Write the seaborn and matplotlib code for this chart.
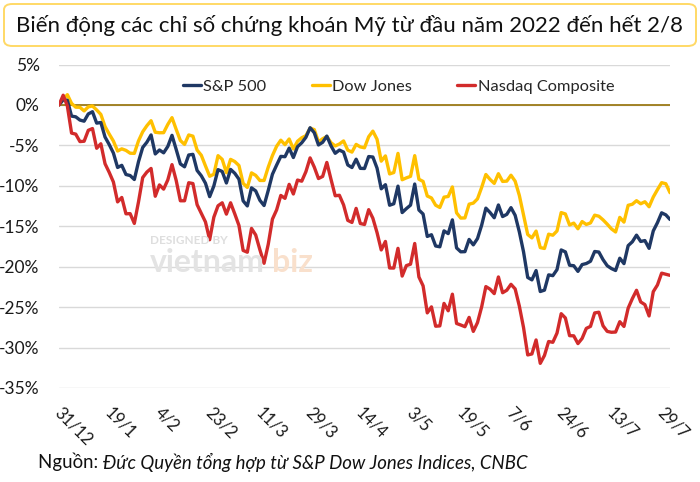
import matplotlib
matplotlib.use("Agg")
import matplotlib.pyplot as plt
import matplotlib.transforms as mtransforms
from matplotlib.patches import FancyBboxPatch
import seaborn as sns
import pandas as pd
import numpy as np

# Trading days 31/12/2021 .. 2/8/2022, % change since end of 2021
sp500 = [0.0, 0.64, 0.57, -1.38, -1.47, -1.87, -2.01, -1.11, -0.84, -2.25, -2.17,
         -3.97, -4.90, -5.95, -7.73, -7.47, -8.60, -8.73, -9.22, -7.01, -5.26,
         -4.61, -3.71, -6.06, -5.57, -5.92, -5.13, -3.76, -5.50, -7.29, -7.65,
         -6.19, -6.11, -8.10, -8.76, -9.68, -11.34, -10.02, -8.00, -8.23, -9.65,
         -7.97, -8.45, -9.18, -11.86, -12.49, -10.25, -10.63, -11.79, -12.44, -10.57,
         -8.57, -7.44, -6.36, -6.40, -5.34, -6.50, -5.16, -4.68, -4.00, -2.82,
         -3.44, -4.95, -4.62, -3.85, -5.06, -5.98, -5.58, -5.83, -7.42, -7.74,
         -6.71, -7.84, -7.86, -6.38, -6.44, -7.82, -10.37, -9.86, -12.40, -12.22,
         -10.04, -13.31, -12.82, -12.39, -9.78, -12.99, -13.49, -16.26, -16.05, -17.44,
         -17.54, -15.57, -15.91, -14.21, -17.68, -18.16, -18.14, -16.63, -17.30, -16.52,
         -14.86, -12.76, -13.30, -13.95, -12.37, -13.80, -13.53, -12.70, -13.65, -15.70,
         -18.16, -21.33, -21.63, -20.48, -23.07, -22.90, -21.01, -21.11, -20.36, -17.93,
         -18.17, -19.82, -19.88, -20.58, -19.74, -19.61, -19.33, -18.12, -18.19, -19.13,
         -19.88, -20.23, -20.47, -18.95, -19.62, -17.40, -16.92, -16.10, -16.88, -16.77,
         -17.73, -15.58, -14.56, -13.34, -13.59, -14.16]
dow = [0.0, 0.68, 1.27, 0.19, -0.28, -0.29, -0.74, -0.24, -0.13, -0.62, -1.17,
       -2.67, -3.60, -4.47, -5.70, -5.43, -5.62, -5.97, -5.99, -4.44, -3.32,
       -2.57, -1.95, -3.38, -3.44, -3.43, -2.41, -1.57, -3.02, -4.40, -4.88,
       -3.71, -3.86, -5.58, -6.22, -7.54, -8.82, -8.57, -6.27, -6.73, -8.38,
       -6.73, -7.00, -7.49, -9.69, -10.20, -8.40, -8.71, -9.34, -9.34, -7.69,
       -6.26, -5.11, -4.36, -4.91, -4.21, -5.45, -4.49, -4.06, -3.80, -2.87,
       -3.05, -4.57, -4.18, -3.90, -4.67, -5.07, -4.83, -4.45, -5.59, -5.83,
       -4.88, -5.19, -5.30, -3.93, -3.24, -4.25, -6.95, -6.30, -8.53, -8.36,
       -5.99, -9.25, -9.02, -8.83, -6.27, -9.19, -9.46, -11.26, -11.50, -12.40,
       -12.68, -11.40, -11.32, -10.14, -13.34, -13.99, -13.97, -12.27, -12.14, -11.61,
       -10.19, -8.60, -9.21, -9.70, -8.50, -9.46, -9.42, -8.69, -9.43, -11.19,
       -13.61, -16.02, -16.44, -15.60, -17.64, -17.75, -15.98, -16.11, -15.58, -13.31,
       -13.48, -14.84, -14.61, -15.31, -14.42, -14.78, -14.59, -13.63, -13.76, -14.21,
       -14.74, -15.32, -15.71, -13.90, -14.49, -12.41, -12.28, -11.84, -12.22, -11.97,
       -12.59, -11.39, -10.48, -9.61, -9.74, -10.85]
nasdaq = [0.0, 1.20, -0.14, -3.48, -3.61, -4.53, -4.49, -3.14, -2.92, -5.36, -4.80,
          -7.27, -8.34, -9.53, -11.99, -11.44, -13.46, -13.44, -14.65, -11.98, -8.98,
          -8.30, -7.85, -11.29, -9.89, -10.41, -9.27, -7.38, -9.33, -11.85, -11.85,
          -9.62, -9.72, -12.33, -13.40, -14.47, -16.67, -13.88, -12.47, -12.10, -13.50,
          -12.10, -13.47, -14.90, -17.99, -18.21, -15.27, -16.08, -17.90, -19.58, -17.23,
          -14.12, -12.98, -11.19, -11.55, -9.82, -11.01, -9.29, -9.43, -8.25, -6.55,
          -7.69, -9.10, -8.84, -7.11, -9.21, -11.23, -11.17, -12.36, -14.27, -14.53,
          -12.79, -14.66, -14.78, -12.95, -14.01, -15.79, -17.93, -16.88, -20.16, -20.17,
          -17.73, -21.16, -19.87, -19.69, -17.13, -21.27, -22.37, -25.71, -24.97, -27.36,
          -27.32, -24.54, -25.45, -23.40, -27.02, -27.21, -27.42, -26.27, -28.00, -26.91,
          -24.96, -22.46, -22.78, -23.33, -21.27, -23.22, -22.91, -22.18, -22.75, -24.87,
          -27.52, -30.91, -30.79, -29.06, -31.95, -30.98, -29.25, -29.35, -28.21, -25.81,
          -26.34, -28.53, -28.55, -29.51, -28.87, -27.63, -27.38, -25.72, -25.63, -27.31,
          -28.00, -28.11, -28.08, -26.80, -27.39, -25.13, -23.95, -22.92, -24.36, -24.69,
          -26.09, -23.09, -22.26, -20.80, -20.94, -21.07]

series_names = ["S&P 500", "Dow Jones", "Nasdaq Composite"]
series_colors = ["#1F3864", "#FFC000", "#D22B2B"]
tick_labels = ["31/12", "19/1", "4/2", "23/2", "11/3", "29/3", "14/4",
               "3/5", "19/5", "7/6", "24/6", "13/7", "29/7"]
tick_every = 12
y_ticks = [5, 0, -5, -10, -15, -20, -25, -30, -35]

title = "Biến động các chỉ số chứng khoán Mỹ từ đầu năm 2022 đến hết 2/8"
source_label = "Nguồn: "
source_text = "Đức Quyền tổng hợp từ S&P Dow Jones Indices, CNBC"

n = len(sp500)
df = pd.DataFrame({
    "day": list(range(n)) * 3,
    "value": sp500 + dow + nasdaq,
    "series": [series_names[0]] * n + [series_names[1]] * n + [series_names[2]] * n,
})

sns.set_theme(style="white")
plt.rcParams["font.family"] = ["Lato", "DejaVu Sans"]

W, H = 700, 482
fig = plt.figure(figsize=(W / 100, H / 100), dpi=100)
ax = fig.add_axes([59 / W, 1 - 388 / H, (670 - 59) / W, (388 - 64.5) / H])

sns.lineplot(data=df, x="day", y="value", hue="series", hue_order=series_names,
             palette=series_colors, linewidth=2.4, ax=ax, legend=True)
lines = ax.get_lines()
for ln in lines[:3]:
    ln.set_solid_joinstyle("round")
if len(lines) >= 3:
    lines[1].set_zorder(2.0)
    lines[0].set_zorder(2.2)
    lines[2].set_zorder(2.4)

ax.set_xlim(0, n - 1)
ax.set_ylim(-35, 5)
ax.set_yticks(y_ticks)
ax.set_yticklabels([f"{v}%" for v in y_ticks], fontsize=12.5, color="#1a1a1a")
ax.set_xticks([i * tick_every for i in range(len(tick_labels))])
ax.set_xticklabels(tick_labels, rotation=-45, ha="left", va="top",
                   rotation_mode="anchor", fontsize=12, color="#1a1a1a")
ax.tick_params(axis="x", pad=12, length=0)
ax.tick_params(axis="y", pad=14, length=0)
shift = mtransforms.ScaledTranslation(4 / 100, 0, fig.dpi_scale_trans)
for lab in ax.get_xticklabels():
    lab.set_transform(lab.get_transform() + shift)
ax.set_xlabel("")
ax.set_ylabel("")
for s in ax.spines.values():
    s.set_visible(False)
ax.grid(axis="y", color="#D9D9D9", linewidth=1.0)
ax.grid(axis="x", visible=False)
ax.axhline(0, color="#9C7A17", linewidth=1.3, zorder=1.5)

leg = ax.legend(loc="center left", bbox_to_anchor=((183 - 59) / 611, (388 - 86.5) / 323.5),
                ncol=3, frameon=False, borderpad=0, borderaxespad=0,
                fontsize=11.8, handlelength=1.1, handletextpad=0.15, columnspacing=2.75)
for lh in leg.get_lines():
    lh.set_linewidth(2.4)

# watermark
fig.text(150 / W, 1 - 240 / H, "DESIGNED BY", fontsize=8.5, color="#DEDEDE",
         fontweight="bold", va="center", ha="left")
fig.text(150 / W, 1 - 262 / H, "vietnam", fontsize=23, color="#E3E3E3",
         fontweight="bold", va="center", ha="left")
fig.text(272 / W, 1 - 262 / H, "biz", fontsize=23, color="#F9E0CC",
         fontweight="bold", va="center", ha="left")

# title box
box = FancyBboxPatch((4 / W, 1 - 46 / H), 692 / W, 42 / H,
                     boxstyle="round,pad=0,rounding_size=0.012",
                     transform=fig.transFigure, facecolor="white",
                     edgecolor="#FFD966", linewidth=1.4)
fig.patches.append(box)
fig.text(0.5, 1 - 25 / H, title, ha="center", va="center", fontsize=16.0, color="#111111")

# source
t1 = fig.text(38 / W, 1 - 462 / H, source_label, ha="left", va="center",
              fontsize=13.4, color="#111111")
fig.canvas.draw()
bb = t1.get_window_extent()
fig.text(bb.x1 / W, 1 - 462 / H, source_text, ha="left", va="center",
         fontsize=13.4, style="italic", color="#111111")

fig.savefig("out.png", dpi=100, facecolor="white")
